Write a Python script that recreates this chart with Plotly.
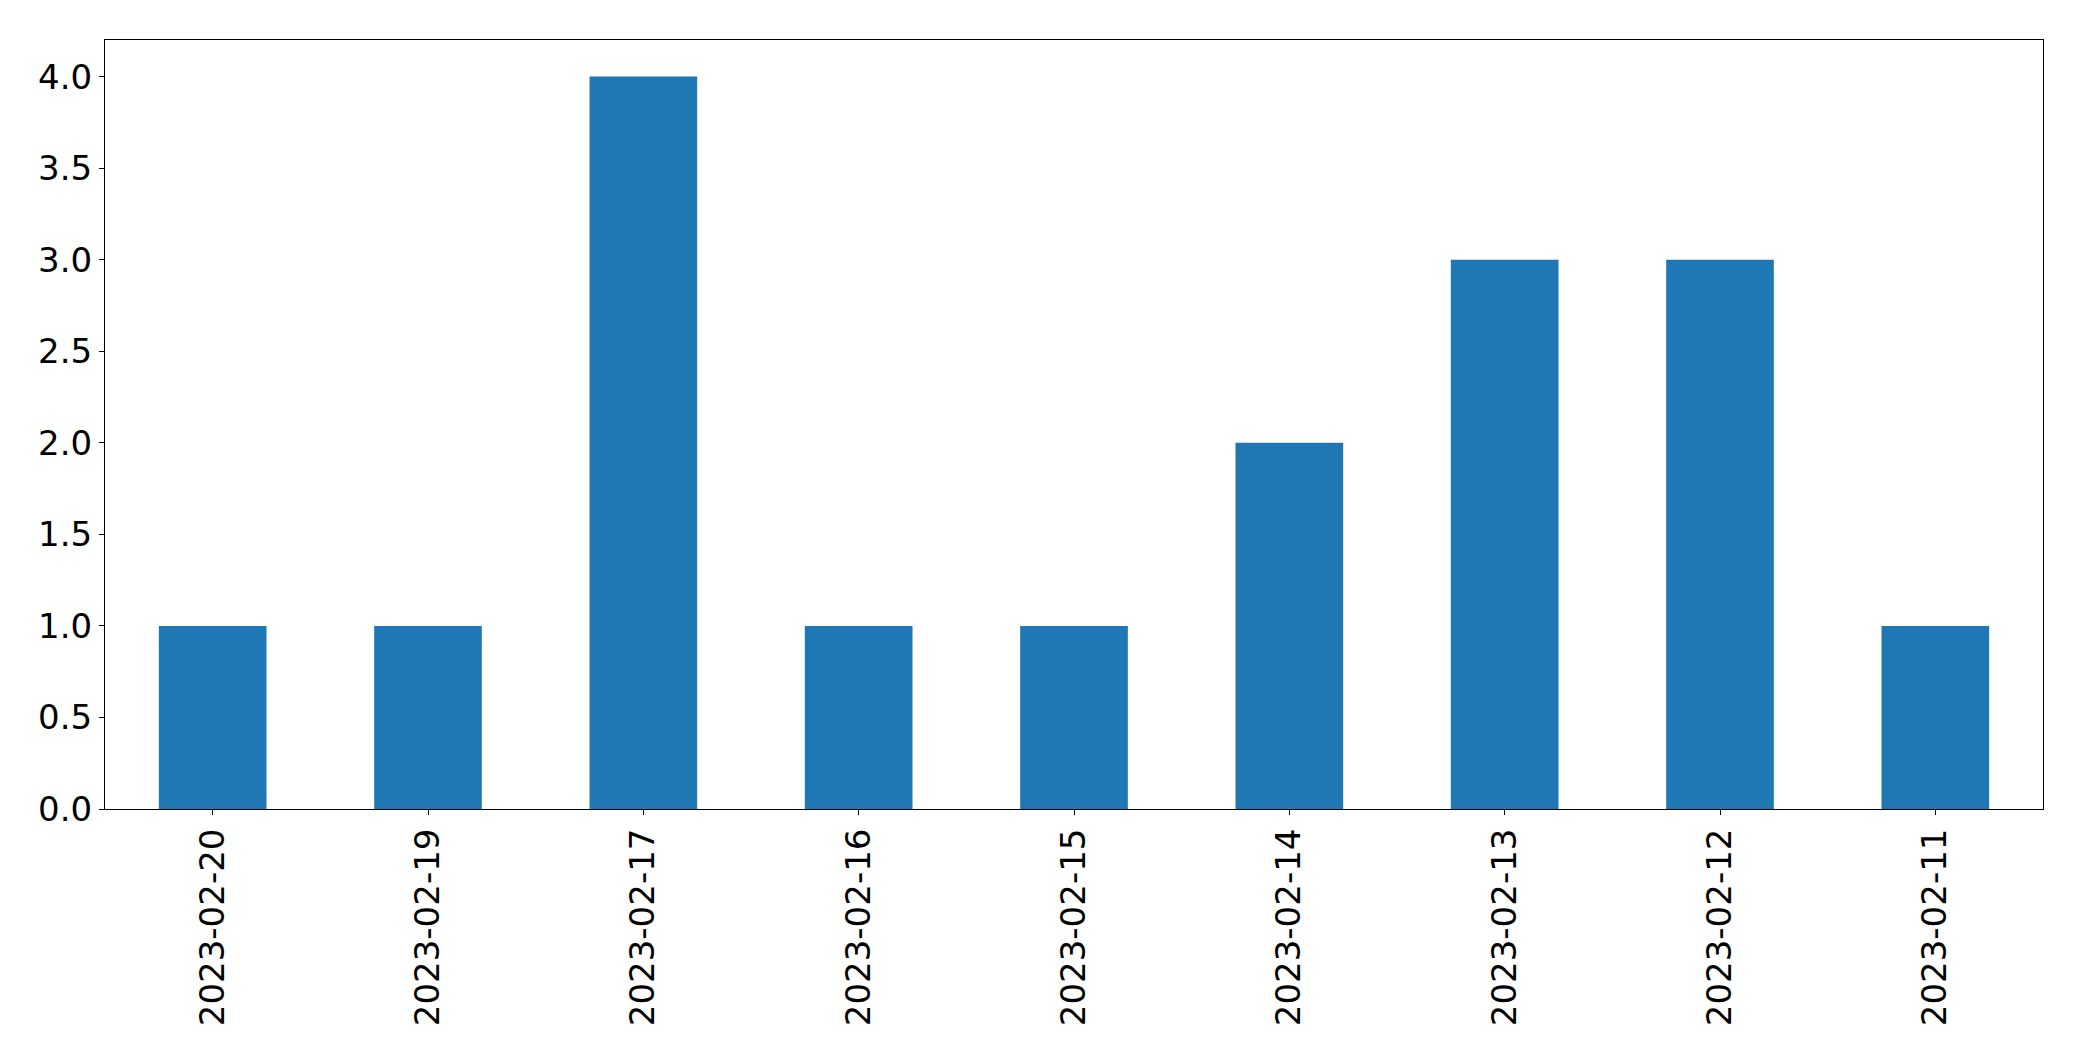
import plotly.graph_objects as go

dates = ["2023-02-20", "2023-02-19", "2023-02-17", "2023-02-16", "2023-02-15",
         "2023-02-14", "2023-02-13", "2023-02-12", "2023-02-11"]
counts = [1, 1, 4, 1, 1, 2, 3, 3, 1]
y_ticks = [0.0, 0.5, 1.0, 1.5, 2.0, 2.5, 3.0, 3.5, 4.0]

fig = go.Figure(go.Bar(x=dates, y=counts, marker_color="#1f77b4",
                       marker_line_width=0, width=0.5))

font = dict(family="DejaVu Sans", size=34, color="black")
fig.update_layout(
    width=2082, height=1061,
    margin=dict(l=105, r=39, t=40, b=252),
    paper_bgcolor="white", plot_bgcolor="white",
    showlegend=False,
    xaxis=dict(type="category", range=[-0.5, 8.5], tickangle=-90, tickfont=font,
               showline=True, linecolor="black", linewidth=1, mirror=True,
               ticks="outside", ticklen=5, tickwidth=1, tickcolor="black",
               showgrid=False, zeroline=False, ticklabelstandoff=0),
    yaxis=dict(range=[0, 4.2], tickvals=y_ticks, ticktext=[f"{v:.1f}" for v in y_ticks],
               tickfont=font,
               showline=True, linecolor="black", linewidth=1, mirror=True,
               ticks="outside", ticklen=5, tickwidth=1, tickcolor="black",
               showgrid=False, zeroline=False, ticklabelstandoff=0),
)

fig.write_html("out.html", config={"displayModeBar": False},
               post_script="document.body.style.margin='0px';")
